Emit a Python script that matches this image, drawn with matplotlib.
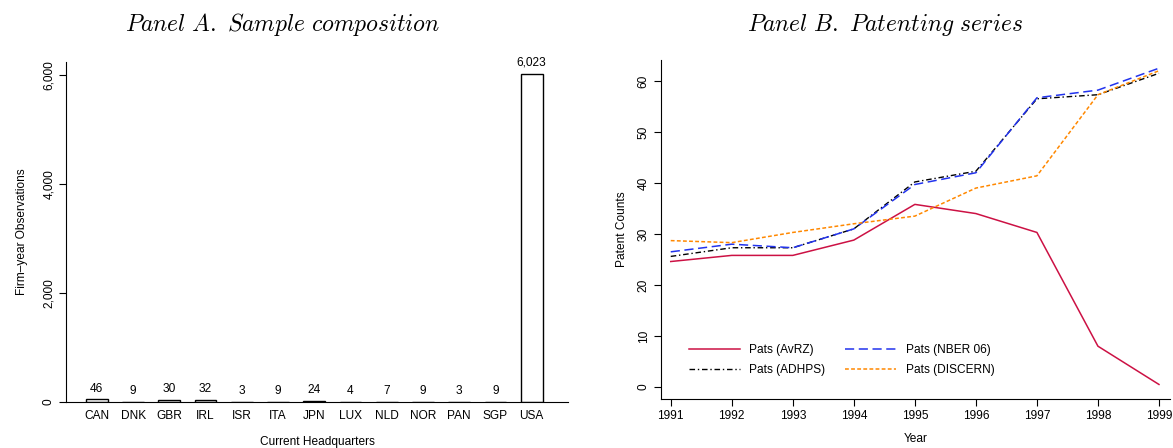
import matplotlib
matplotlib.use("Agg")
import matplotlib.pyplot as plt
from matplotlib.ticker import FuncFormatter

plt.rcParams['font.family'] = ['Liberation Sans', 'DejaVu Sans']
plt.rcParams['mathtext.fontset'] = 'cm'

countries = ["CAN", "DNK", "GBR", "IRL", "ISR", "ITA", "JPN", "LUX", "NLD", "NOR", "PAN", "SGP", "USA"]
observations = [46, 9, 30, 32, 3, 9, 24, 4, 7, 9, 3, 9, 6023]

years = [1991, 1992, 1993, 1994, 1995, 1996, 1997, 1998, 1999]
pats_avrz = [24.6, 25.8, 25.8, 28.8, 35.8, 34.0, 30.3, 8.0, 0.5]
pats_nber = [26.5, 28.0, 27.3, 31.0, 39.7, 42.0, 56.7, 58.2, 62.5]
pats_adhps = [25.6, 27.3, 27.3, 31.0, 40.2, 42.3, 56.5, 57.3, 61.5]
pats_discern = [28.7, 28.3, 30.3, 32.0, 33.5, 39.0, 41.4, 57.3, 62.0]

FS = 8.6

fig = plt.figure(figsize=(11.73, 4.48), dpi=100)

# Panel A
axA = fig.add_axes([0.0563, 0.1027, 0.4279, 0.7589])
pos = list(range(len(countries)))
axA.bar(pos, observations, width=0.6, color='white', edgecolor='black', linewidth=1.0)
for p, v in zip(pos, observations):
    axA.text(p, v + 90, f"{v:,}", ha='center', va='bottom', fontsize=FS)
axA.set_xlim(-0.85, 13.0)
axA.set_ylim(0, 6240)
axA.set_xticks(pos)
axA.set_xticklabels(countries, fontsize=FS)
axA.tick_params(axis='x', length=0, pad=6)
axA.set_yticks([0, 2000, 4000, 6000])
axA.yaxis.set_major_formatter(FuncFormatter(lambda v, _: f"{int(v):,}"))
axA.tick_params(axis='y', labelsize=FS, length=5, pad=3)
for lab in axA.get_yticklabels():
    lab.set_rotation(90)
    lab.set_va('center')
axA.spines['top'].set_visible(False)
axA.spines['right'].set_visible(False)
axA.set_xlabel("Current Headquarters", fontsize=FS, labelpad=10)
axA.set_ylabel("Firm\u2013year Observations", fontsize=FS, labelpad=11)
fig.text(0.2412, 0.945, r"$\mathit{Panel\ A.\ Sample\ composition}$", ha='center', va='center', fontsize=17)

# Panel B
axB = fig.add_axes([0.5635, 0.1094, 0.4339, 0.7566])
axB.plot(years, pats_avrz, color='#CC1144', linestyle='-', linewidth=1.1, label='Pats (AvRZ)')
axB.plot(years, pats_adhps, color='black', linestyle=(0, (4, 2, 1, 2)), linewidth=1.0, label='Pats (ADHPS)')
axB.plot(years, pats_nber, color='#2233EE', linestyle=(0, (6, 3)), linewidth=1.1, label='Pats (NBER 06)')
axB.plot(years, pats_discern, color='#FF8800', linestyle=(0, (2.5, 1.5)), linewidth=1.1, label='Pats (DISCERN)')
axB.set_xlim(1990.84, 1999.18)
axB.set_ylim(-2.35, 64.1)
axB.set_xticks(years)
axB.set_yticks([0, 10, 20, 30, 40, 50, 60])
axB.tick_params(axis='both', labelsize=FS, length=5, pad=3)
for lab in axB.get_yticklabels():
    lab.set_rotation(90)
    lab.set_va('center')
axB.spines['top'].set_visible(False)
axB.spines['right'].set_visible(False)
axB.set_xlabel("Year", fontsize=FS, labelpad=8)
axB.set_ylabel("Patent Counts", fontsize=FS, labelpad=7)
axB.legend(ncol=2, frameon=False, fontsize=FS, loc='lower left', bbox_to_anchor=(0.033, 0.035),
           handlelength=4.3, columnspacing=1.6, handletextpad=0.8, labelspacing=0.7)
fig.text(0.7545, 0.945, r"$\mathit{Panel\ B.\ Patenting\ series}$", ha='center', va='center', fontsize=17)

fig.savefig("out.png", dpi=100)
